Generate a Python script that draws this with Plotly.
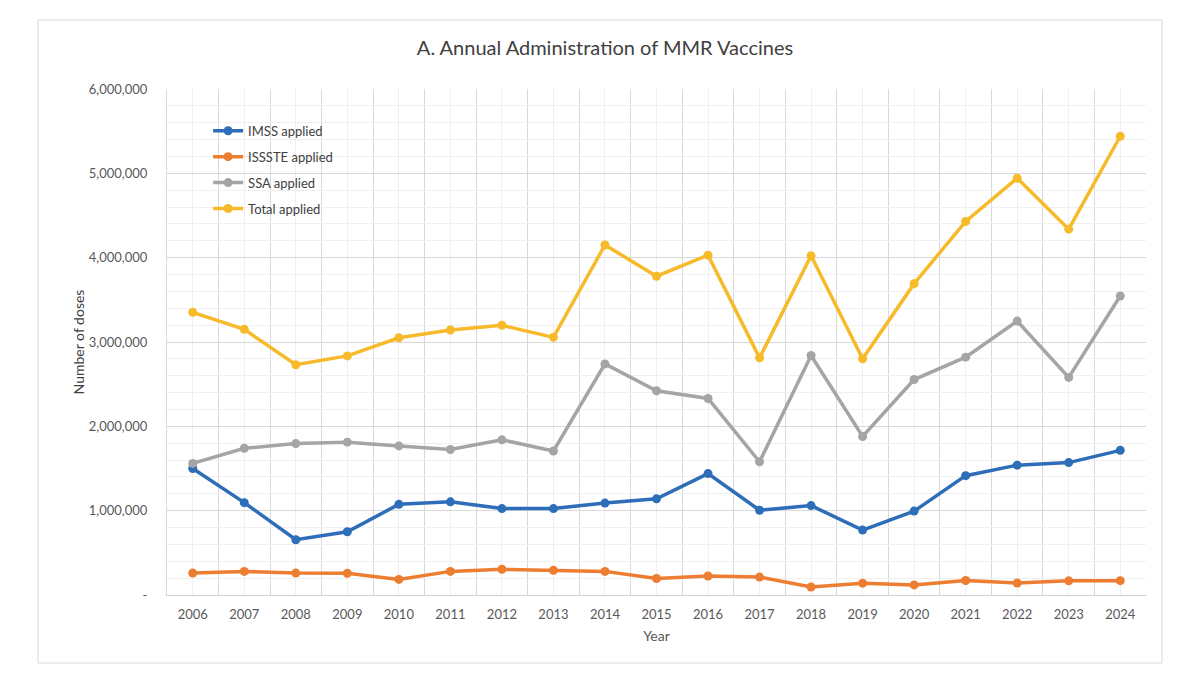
import plotly.graph_objects as go

years = list(range(2006, 2025))
imss = [1500000, 1095000, 655000, 750000, 1075000, 1105000, 1025000, 1025000, 1090000, 1140000,
        1440000, 1005000, 1060000, 770000, 995000, 1415000, 1540000, 1570000, 1715000]
issste = [260000, 280000, 260000, 258000, 185000, 280000, 305000, 292000, 280000, 195000,
          225000, 212000, 95000, 140000, 120000, 172000, 142000, 168000, 170000]
ssa = [1560000, 1740000, 1795000, 1812000, 1768000, 1725000, 1840000, 1708000, 2740000, 2422000,
       2330000, 1580000, 2840000, 1880000, 2555000, 2820000, 3248000, 2580000, 3545000]
total = [3352000, 3150000, 2730000, 2835000, 3050000, 3142000, 3198000, 3055000, 4150000, 3780000,
         4030000, 2812000, 4022000, 2802000, 3692000, 4430000, 4942000, 4338000, 5440000]

series_names = ["IMSS applied", "ISSSTE applied", "SSA applied", "Total applied"]
series_vals = [imss, issste, ssa, total]
series_colors = ["#2E6DB8", "#ED7D31", "#A5A5A5", "#F7BA2A"]

y_tickvals = [0, 1000000, 2000000, 3000000, 4000000, 5000000, 6000000]
y_ticktext = ["-", "1,000,000", "2,000,000", "3,000,000", "4,000,000", "5,000,000", "6,000,000"]

FONT = "Lato, 'Open Sans', sans-serif"
TXT = "#595959"

fig = go.Figure()
for i, (name, vals, col) in enumerate(zip(series_names, series_vals, series_colors)):
    fig.add_trace(go.Scatter(
        x=years, y=vals, name=name, mode="lines+markers",
        line=dict(color=col, width=3.5),
        marker=dict(color=col, size=9),
        legendgroup=f"g{i}",
    ))

x_bounds = [y - 0.5 for y in years] + [years[-1] + 0.5]

fig.update_layout(
    width=1200, height=683,
    paper_bgcolor="white", plot_bgcolor="white",
    margin=dict(l=167, r=54, t=89, b=88),
    title=dict(text="A. Annual Administration of MMR Vaccines",
               font=dict(family=FONT, size=20, color="#404040"),
               x=605 / 1200, xanchor="center", y=1 - 48 / 683, yanchor="middle"),
    font=dict(family=FONT, size=12, color=TXT),
    showlegend=True,
    legend=dict(x=0.042, y=0.947, xanchor="left", yanchor="top",
                bgcolor="rgba(0,0,0,0)", font=dict(family=FONT, size=13, color="#404040"),
                tracegroupgap=6),
    hovermode=False,
)

fig.update_xaxes(
    range=[2005.5, 2024.5],
    tickvals=years, ticktext=[str(y) for y in years],
    showgrid=True, gridcolor="#EFEFEF", gridwidth=1,
    minor=dict(tickvals=x_bounds, showgrid=True, gridcolor="#D9D9D9", gridwidth=1, ticks=""),
    showline=True, linecolor="#D0D0D0", linewidth=1,
    ticks="", ticklabelstandoff=7,
    tickfont=dict(family=FONT, size=13, color=TXT),
    title=dict(text="Year", font=dict(family=FONT, size=14, color=TXT), standoff=10),
    zeroline=False,
)
fig.update_yaxes(
    range=[0, 6000000],
    tickvals=y_tickvals, ticktext=y_ticktext,
    showgrid=True, gridcolor="#D9D9D9", gridwidth=1,
    minor=dict(dtick=200000, showgrid=True, gridcolor="#F0F0F0", gridwidth=1, ticks=""),
    showline=True, linecolor="#D9D9D9", linewidth=1,
    ticks="", ticklabelstandoff=16,
    tickfont=dict(family=FONT, size=13, color=TXT),
    title=dict(text="Number of doses", font=dict(family=FONT, size=14, color="#404040"), standoff=0),
    zeroline=False,
)

# outer chart border
fig.add_shape(type="rect", xref="paper", yref="paper",
              x0=(38 - 167) / 979, x1=(1162 - 167) / 979,
              y0=(595 - 663) / 506, y1=(595 - 20) / 506,
              line=dict(color="#D9D9D9", width=1), fillcolor="rgba(0,0,0,0)", layer="below")

fig.write_html("out.html")
